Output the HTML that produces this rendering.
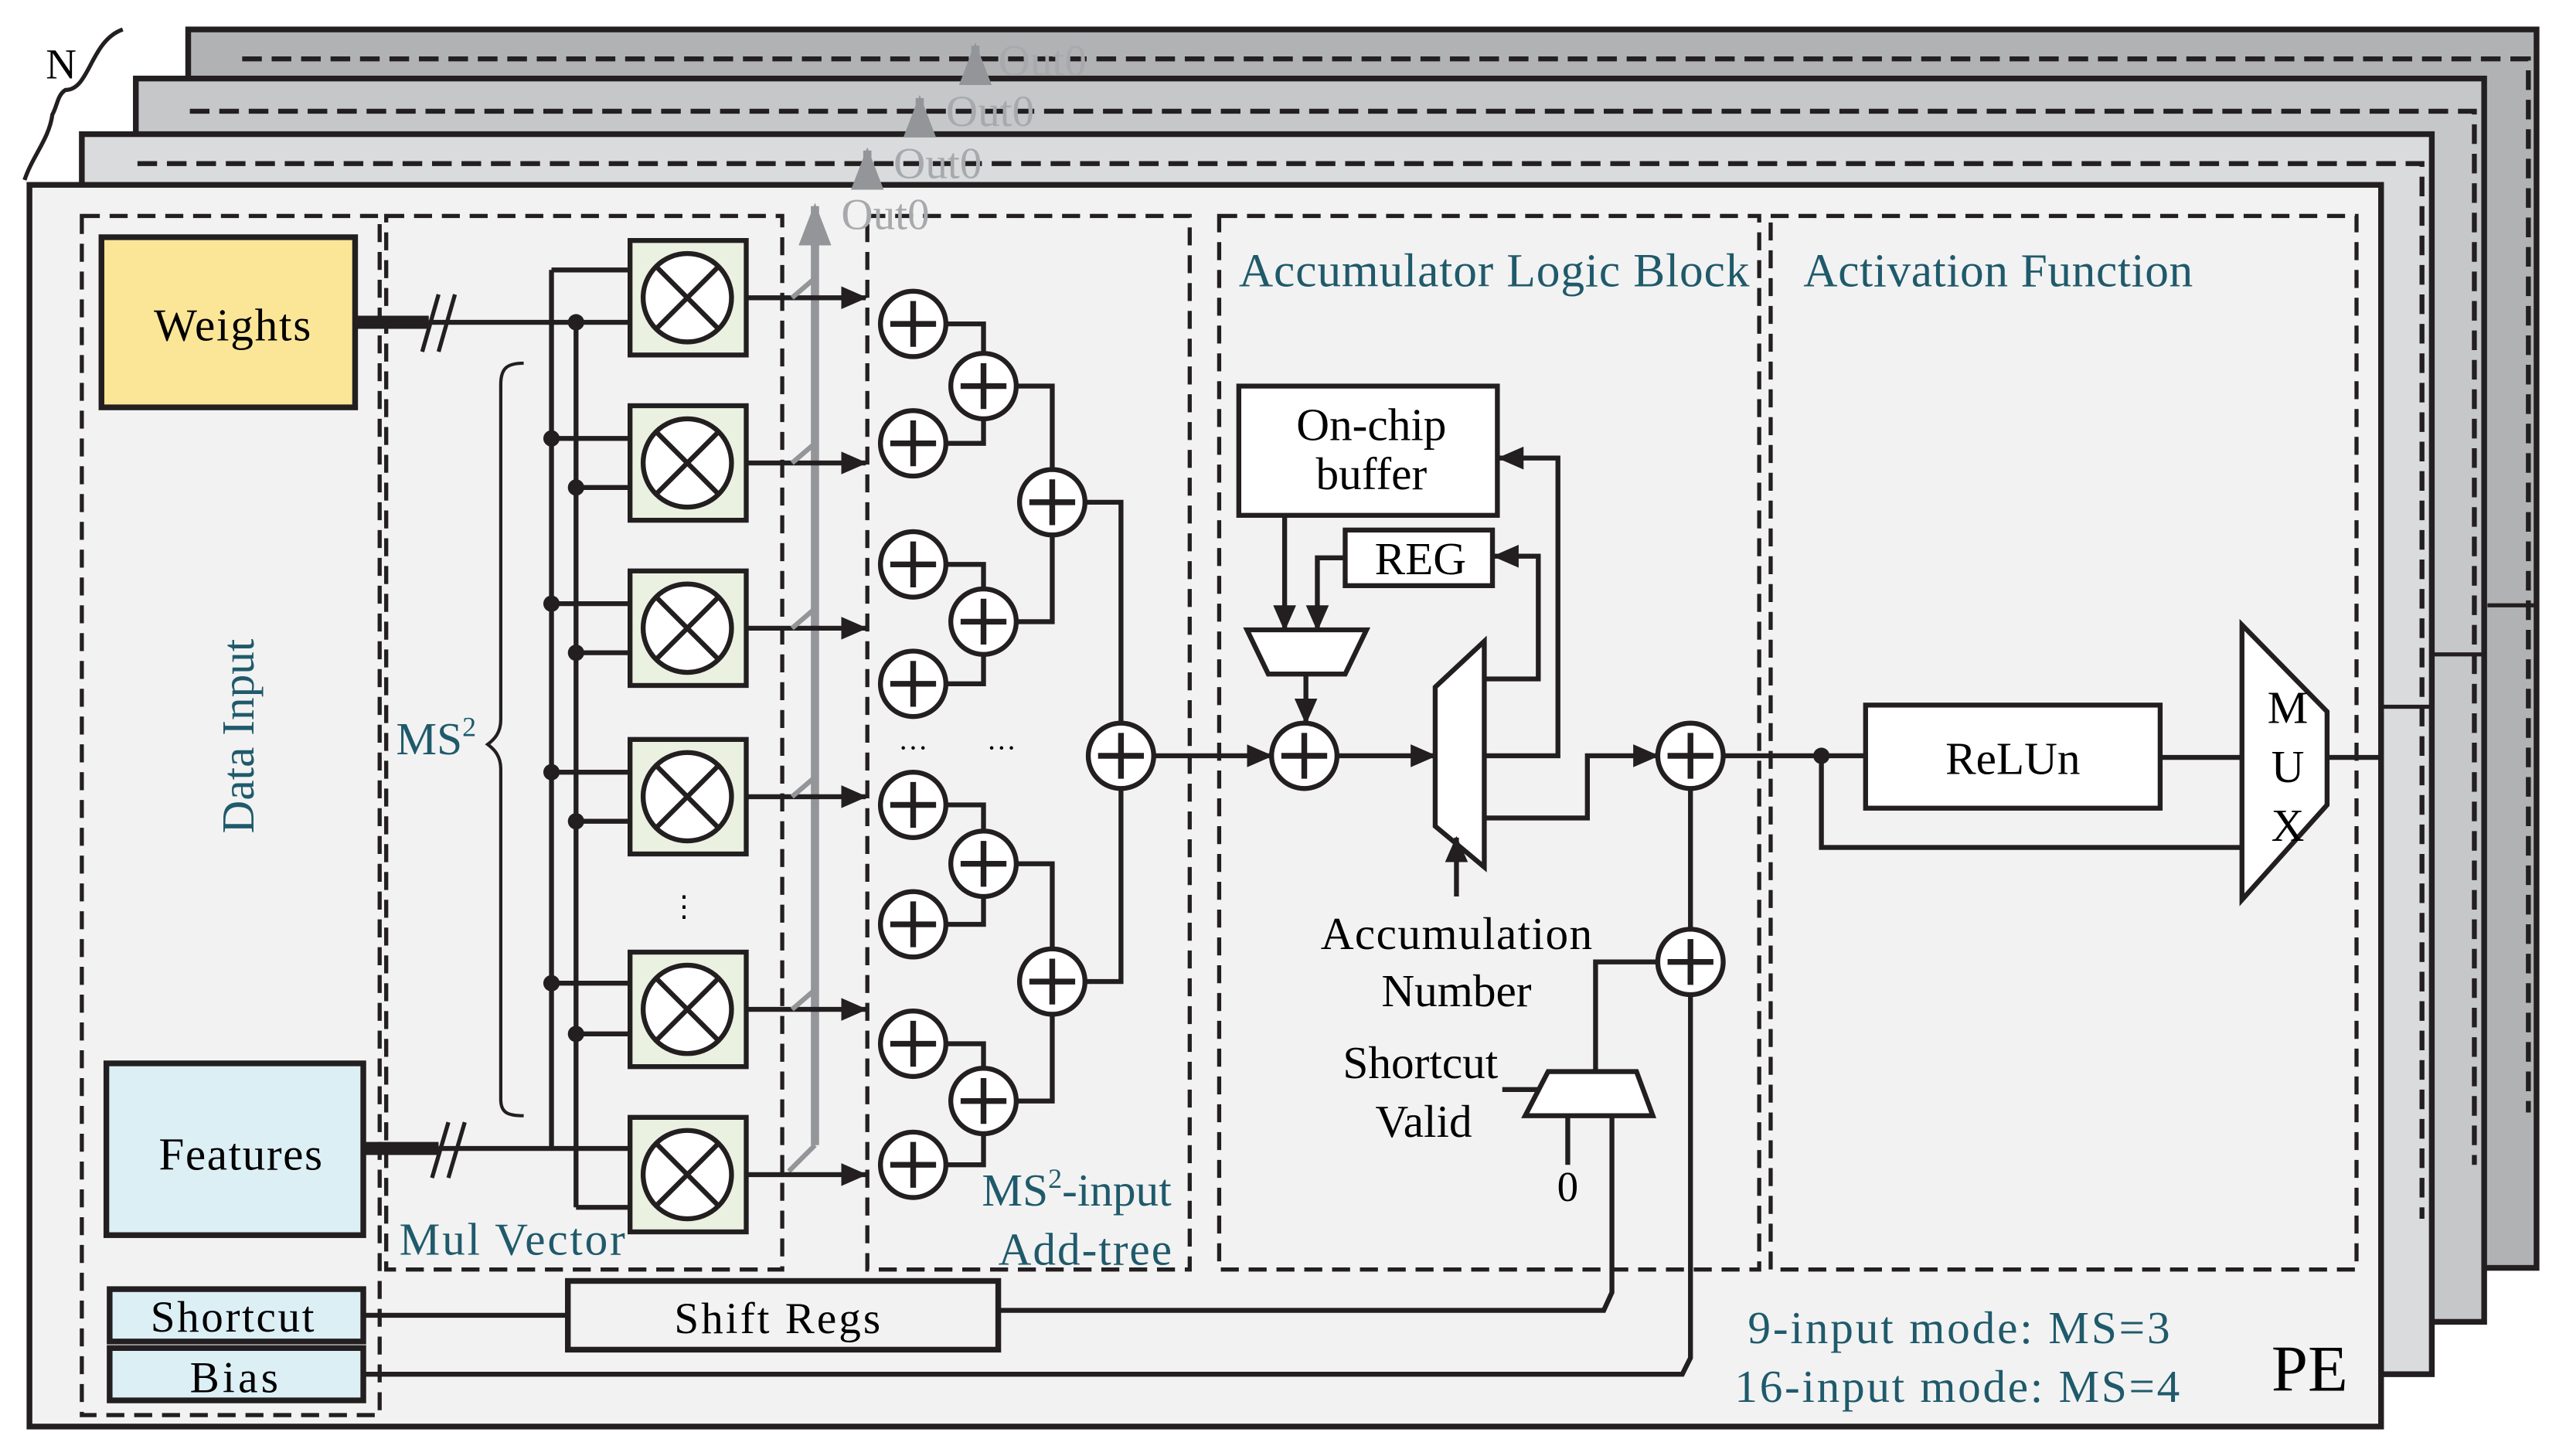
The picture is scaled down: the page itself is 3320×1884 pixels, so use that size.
<!DOCTYPE html>
<html><head><meta charset="utf-8"><style>
html,body{margin:0;padding:0;background:#fff;}
svg{display:block;}
text{font-family:"Liberation Serif",serif;}
.t{fill:#1f5a6b;}
</style></head><body>
<svg width="3320" height="1884" viewBox="0 0 1568 890" preserveAspectRatio="none" xmlns="http://www.w3.org/2000/svg">
<defs>
<marker id="ar" markerWidth="16" markerHeight="14" refX="15" refY="7" orient="auto" markerUnits="userSpaceOnUse"><path d="M0,0 L16,7 L0,14 z" fill="#231f20"/></marker>
<marker id="ag" markerWidth="20" markerHeight="26" refX="10" refY="2" orient="0" markerUnits="userSpaceOnUse"><path d="M0,26 L10,0 L20,26 z" fill="#939598"/></marker>
</defs>
<g stroke="#231f20" fill="none">
<path d="M75,18 C55,25 55,55 40,55 C35,58 35,65 32,70 C30,85 20,95 15,110" stroke-width="2.5"/>
<rect x="115" y="18" width="1435" height="757" fill="#b1b2b4" stroke-width="3.5"/>
<path d="M148,36 H1545 V680" stroke-dasharray="12,6" stroke-width="3"/>
<rect x="83" y="48" width="1435" height="760" fill="#c6c7c9" stroke-width="3.5"/>
<path d="M116,68 H1512 V712" stroke-dasharray="12,6" stroke-width="3"/>
<rect x="50" y="82" width="1436" height="758" fill="#dadbdd" stroke-width="3.5"/>
<path d="M84,100 H1480 V745" stroke-dasharray="12,6" stroke-width="3"/>
<rect x="18" y="113" width="1437" height="759" fill="#f2f2f2" stroke-width="3.5"/>
<path d="M1455,432 H1486 M1486,400 V432 M1486,400 H1518 M1518,330 V410 M1520,370 H1550" stroke-width="2.5"/>
<g stroke-dasharray="11,6" stroke-width="2.5">
<rect x="50" y="132" width="182" height="733"/>
<rect x="236" y="132" width="242" height="644"/>
<rect x="530" y="132" width="197" height="644"/>
<rect x="745" y="132" width="330" height="644"/>
<rect x="1082" y="132" width="358" height="644"/>
</g>
<g stroke="#939598" stroke-width="5">
<path d="M498,700 V126" marker-end="url(#ag)"/>
<path d="M530,113 V92" marker-end="url(#ag)"/>
<path d="M562,82 V60" marker-end="url(#ag)"/>
<path d="M596,48 V28" marker-end="url(#ag)"/>
<path d="M498,700 L482,716" stroke-width="3"/>
</g>
<rect x="62" y="145" width="155" height="104" fill="#fbe697" stroke-width="3.5"/>
<rect x="65" y="650" width="157" height="105" fill="#dceff5" stroke-width="3.5"/>
<rect x="67" y="788" width="155" height="32" fill="#dceff5" stroke-width="3.5"/>
<rect x="67" y="824" width="155" height="32" fill="#dceff5" stroke-width="3.5"/>
<rect x="347" y="783" width="263" height="42" fill="#f2f2f2" stroke-width="3.5"/>
<path d="M217,197 H262" stroke-width="8"/>
<path d="M262,197 H385" stroke-width="3"/>
<path d="M258,215 L268,180 M268,215 L278,180" stroke-width="2.5"/>
<path d="M222,702 H268" stroke-width="8"/>
<path d="M268,702 H385" stroke-width="3"/>
<path d="M264,720 L274,686 M274,720 L284,686" stroke-width="2.5"/>
<path d="M337,165 V702 M352,197 V738" stroke-width="3"/>
<path d="M320,222 C310,222 306,225 306,235 V440 C306,448 302,452 298,455 C302,458 306,462 306,470 V672 C306,680 310,682 320,682" stroke-width="2"/>
</g>
<g stroke="#231f20" stroke-width="3">
<g fill="#eaf1e0">
<rect x="385" y="147" width="71" height="70"/><rect x="385" y="248" width="71" height="70"/><rect x="385" y="349" width="71" height="70"/><rect x="385" y="452" width="71" height="70"/><rect x="385" y="582" width="71" height="70"/><rect x="385" y="683" width="71" height="70"/>
</g>
<g fill="#fff">
<circle cx="420" cy="182" r="27"/><circle cx="420" cy="283" r="27"/><circle cx="420" cy="384" r="27"/><circle cx="420" cy="487" r="27"/><circle cx="420" cy="617" r="27"/><circle cx="420" cy="718" r="27"/>
</g>
<g fill="none">
<path d="M401,163 L439,201 M439,163 L401,201 M401,264 L439,302 M439,264 L401,302 M401,365 L439,403 M439,365 L401,403 M401,468 L439,506 M439,468 L401,506 M401,598 L439,636 M439,598 L401,636 M401,699 L439,737 M439,699 L401,737"/>
<path d="M337,165 H385 M337,268 H385 M352,298 H385 M337,369 H385 M352,399 H385 M337,472 H385 M352,502 H385 M337,601 H385 M352,632 H385 M352,738 H385"/>
</g>
<g fill="#231f20" stroke="none">
<circle cx="352" cy="197" r="5"/><circle cx="337" cy="268" r="5"/><circle cx="352" cy="298" r="5"/><circle cx="337" cy="369" r="5"/><circle cx="352" cy="399" r="5"/><circle cx="337" cy="472" r="5"/><circle cx="352" cy="502" r="5"/><circle cx="337" cy="601" r="5"/><circle cx="352" cy="632" r="5"/>
</g>
<g fill="none" marker-end="url(#ar)">
<path d="M456,182 H529"/><path d="M456,283 H529"/><path d="M456,384 H529"/><path d="M456,487 H529"/><path d="M456,617 H529"/><path d="M456,718 H529"/>
</g>
<g stroke="#939598" stroke-width="3" fill="none">
<path d="M484,182 L498,170 M484,283 L498,271 M484,384 L498,372 M484,487 L498,475 M484,617 L498,605"/>
</g>
<g fill="none">
<path d="M578,198 H601 V216 M578,271 H601 V256 M621,236 H643 V287 M578,345 H601 V360 M578,418 H601 V400 M621,380 H643 V327 M663,307 H685 V442"/>
<path d="M578,492 H601 V508 M578,565 H601 V548 M621,528 H643 V580 M578,638 H601 V653 M578,712 H601 V693 M621,673 H643 V620 M663,600 H685 V482"/>
<path d="M705,462 H777" marker-end="url(#ar)"/>
</g>
<g fill="#fff">
<circle cx="558" cy="198" r="20"/><circle cx="558" cy="271" r="20"/><circle cx="558" cy="345" r="20"/><circle cx="558" cy="418" r="20"/><circle cx="558" cy="492" r="20"/><circle cx="558" cy="565" r="20"/><circle cx="558" cy="638" r="20"/><circle cx="558" cy="712" r="20"/>
<circle cx="601" cy="236" r="20"/><circle cx="601" cy="380" r="20"/><circle cx="601" cy="528" r="20"/><circle cx="601" cy="673" r="20"/>
<circle cx="643" cy="307" r="20"/><circle cx="643" cy="600" r="20"/><circle cx="685" cy="462" r="20"/>
<circle cx="797" cy="462" r="20"/><circle cx="1033" cy="462" r="20"/><circle cx="1033" cy="588" r="20"/>
</g>
<path fill="none" stroke-width="3.5" d="M544,198h28M558,184v28M544,271h28M558,257v28M544,345h28M558,331v28M544,418h28M558,404v28M544,492h28M558,478v28M544,565h28M558,551v28M544,638h28M558,624v28M544,712h28M558,698v28M587,236h28M601,222v28M587,380h28M601,366v28M587,528h28M601,514v28M587,673h28M601,659v28M629,307h28M643,293v28M629,600h28M643,586v28M671,462h28M685,448v28M783,462h28M797,448v28M1019,462h28M1033,448v28M1019,588h28M1033,574v28"/>
<rect x="757" y="236" width="158" height="79" fill="#fff"/>
<rect x="822" y="324" width="90" height="34" fill="#fff"/>
<path d="M762,385 H835 L822,412 H775 Z" fill="#fff"/>
<g fill="none">
<path d="M785,315 V385" marker-end="url(#ar)"/>
<path d="M822,341 H805 V385" marker-end="url(#ar)"/>
<path d="M798,412 V442" marker-end="url(#ar)"/>
<path d="M817,462 H877" marker-end="url(#ar)"/>
</g>
<path d="M877,420 L907,392 V530 L877,505 Z" fill="#fff"/>
<g fill="none">
<path d="M907,462 H952 V280 H916" marker-end="url(#ar)"/>
<path d="M907,415 H940 V340 H913" marker-end="url(#ar)"/>
<path d="M907,500 H970 V462 H1013" marker-end="url(#ar)"/>
<path d="M890,548 V512" marker-end="url(#ar)"/>
<path d="M1033,482 V568"/>
<path d="M1013,588 H975 V655"/>
<path d="M918,666 H944"/>
<path d="M958,682 V712 M985,682 V790 L980,801 H610"/>
<path d="M222,804 H347"/>
<path d="M222,840 H1028 L1033,830 V608"/>
</g>
<path d="M946,655 H1000 L1010,682 H932 Z" fill="#fff"/>
<path d="M1053,462 H1140" fill="none"/>
<circle cx="1113" cy="462" r="5" fill="#231f20" stroke="none"/>
<rect x="1140" y="431" width="180" height="63" fill="#fff"/>
<path d="M1113,462 V518 H1370 M1320,463 H1370 M1422,463 H1455" fill="none"/>
<path d="M1370,382 L1422,435 V492 L1370,550 Z" fill="#fff"/>
</g>
<g font-size="28">
<text x="610" y="46" fill="#a7a9ac" font-size="27">Out0</text>
<text x="578" y="77" fill="#a7a9ac" font-size="27">Out0</text>
<text x="546" y="109" fill="#a7a9ac" font-size="27">Out0</text>
<text x="514" y="140" fill="#a7a9ac" font-size="27">Out0</text>
<text x="28" y="48" font-size="26">N</text>
<text x="94" y="208" font-size="28" textLength="96">Weights</text>
<text x="97" y="715" font-size="28" textLength="100">Features</text>
<text x="92" y="814" font-size="27" textLength="100">Shortcut</text>
<text x="116" y="851" font-size="27" textLength="54">Bias</text>
<text x="412" y="815" font-size="27" textLength="126">Shift Regs</text>
<text class="t" transform="translate(155,450) rotate(-90)" text-anchor="middle" font-size="28">Data Input</text>
<text class="t" x="242" y="461" font-size="28">MS<tspan font-size="17" dy="-11">2</tspan></text>
<text class="t" x="244" y="767" font-size="28" textLength="138">Mul Vector</text>
<text class="t" x="600" y="737" font-size="28">MS<tspan font-size="17" dy="-11">2</tspan><tspan dy="11">-input</tspan></text>
<text class="t" x="610" y="773" font-size="28" textLength="106">Add-tree</text>
<text class="t" x="757" y="175" font-size="29" textLength="312">Accumulator Logic Block</text>
<text class="t" x="1102" y="175" font-size="29" textLength="238">Activation Function</text>
<text x="838" y="269" text-anchor="middle" font-size="28">On-chip</text>
<text x="838" y="299" text-anchor="middle" font-size="28">buffer</text>
<text x="868" y="351" text-anchor="middle" font-size="28">REG</text>
<text x="807" y="580" font-size="28" textLength="166">Accumulation</text>
<text x="890" y="615" text-anchor="middle" font-size="28">Number</text>
<text x="868" y="659" text-anchor="middle" font-size="28">Shortcut</text>
<text x="870" y="695" text-anchor="middle" font-size="28">Valid</text>
<text x="958" y="734" text-anchor="middle" font-size="26">0</text>
<text x="1230" y="473" text-anchor="middle" font-size="28">ReLUn</text>
<text x="1398" y="442" text-anchor="middle" font-size="28">M</text>
<text x="1398" y="478" text-anchor="middle" font-size="28">U</text>
<text x="1398" y="514" text-anchor="middle" font-size="28">X</text>
<text x="418" y="560" text-anchor="middle" font-size="18">⋮</text>
<text x="558" y="458" text-anchor="middle" font-size="18">…</text>
<text x="612" y="458" text-anchor="middle" font-size="18">…</text>
<text class="t" x="1068" y="821" font-size="28" textLength="258">9-input mode:  MS=3</text>
<text class="t" x="1060" y="857" font-size="28" textLength="272">16-input mode:  MS=4</text>
<text x="1388" y="850" font-size="40">PE</text>
</g>
</svg>
</body></html>
